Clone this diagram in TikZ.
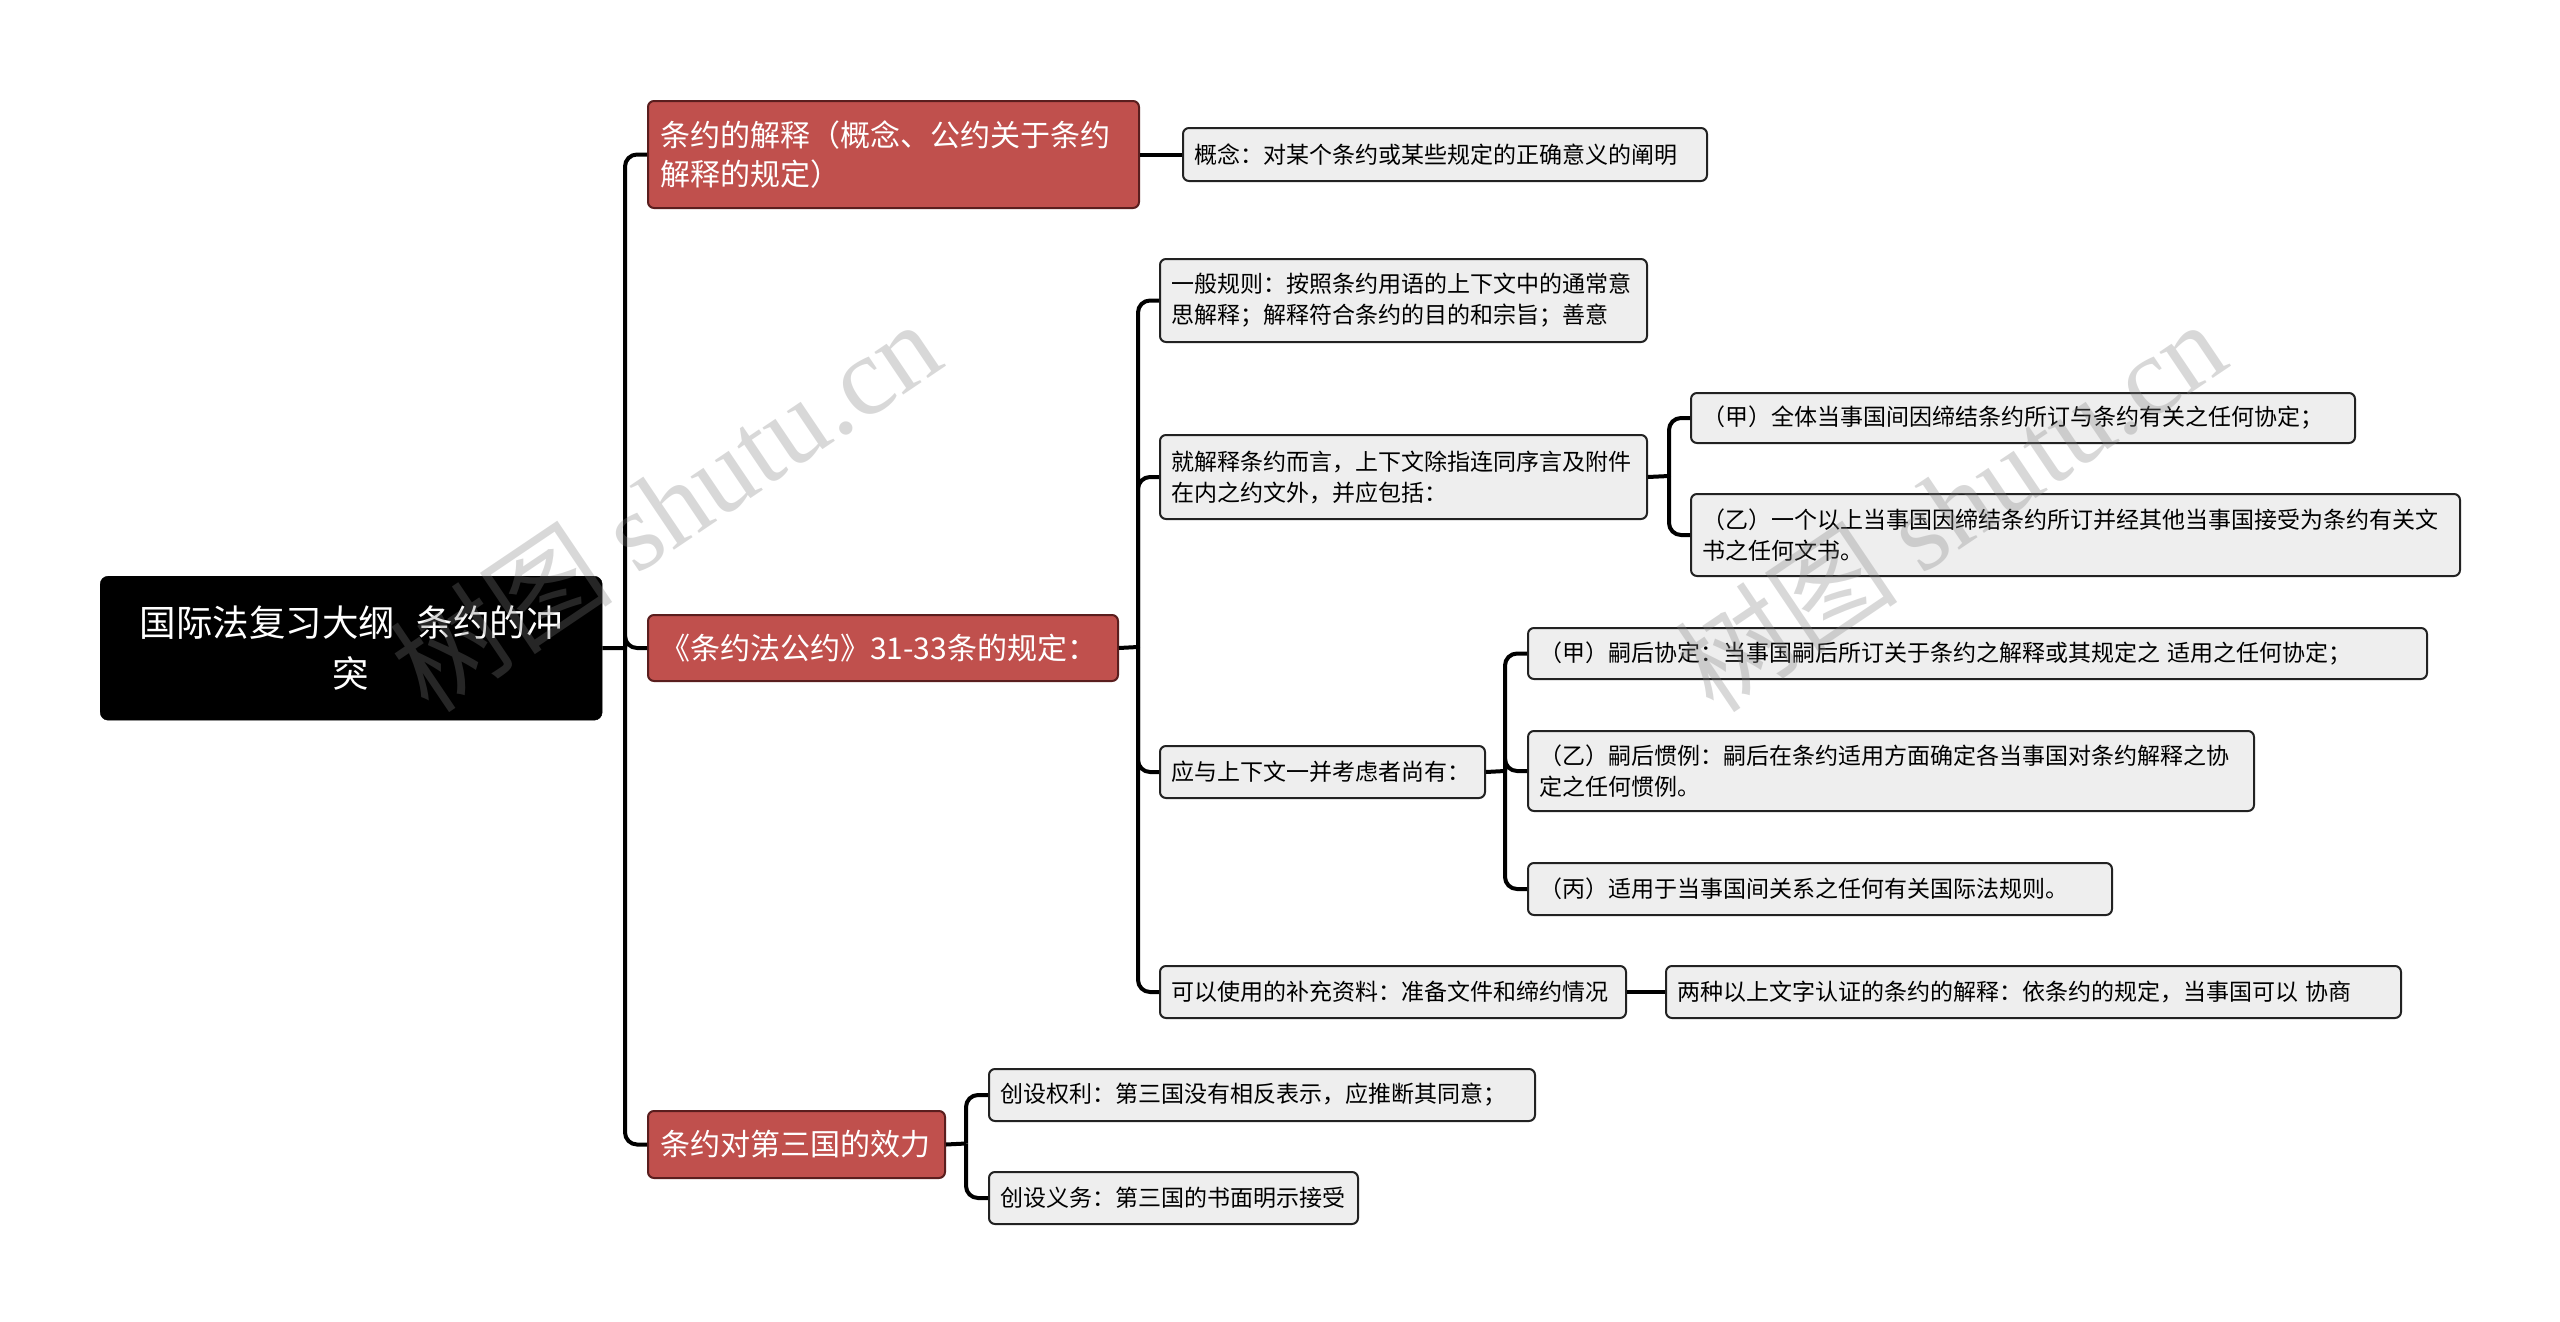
\documentclass[tikz,border=0pt]{standalone}
\usepackage{fontspec}
\setmainfont{Noto Sans CJK SC}
\newfontfamily\wmlatin{Liberation Serif}
\definecolor{redfill}{HTML}{C0504D}
\definecolor{redborder}{HTML}{5A1E1E}
\definecolor{boxgray}{HTML}{EEEEEE}
\definecolor{boxline}{HTML}{222222}
\tikzset{
  base/.style={draw, rounded corners=6pt, line width=2pt, inner xsep=11pt, inner ysep=0pt, align=left, anchor=north west},
  lvtwo/.style={base, fill=boxgray, draw=boxline, text=black, font=\fontsize{23}{31}\selectfont},
  lvone/.style={base, fill=redfill, draw=redborder, text=white, inner xsep=12pt, font=\fontsize{30}{39}\selectfont},
  rootbox/.style={draw=black, fill=black, rounded corners=8pt, text=white, align=center, anchor=north west, inner sep=0pt, font=\fontsize{36.5}{51}\selectfont},
  conn/.style={draw=black, line width=4pt, rounded corners=12pt},
  wm/.style={text=gray, opacity=0.3, font=\fontsize{112}{112}\selectfont}
}
\begin{document}
\begin{tikzpicture}[x=1pt, y=-1pt]
\useasboundingbox (0,0) rectangle (2560,1322);
\fill[white] (0,0) rectangle (2560,1322);

% root
\node[rootbox, minimum width=502pt, minimum height=144pt] (root) at (100,576) {国际法复习大纲\hspace{0.6em}条约的冲\\突};

% level 1
\node[lvone, text width=467pt, minimum height=107pt] (n1) at (647,100) {条约的解释（概念、公约关于条约\\解释的规定）};
\node[lvone, text width=446pt, minimum height=66pt] (n2) at (647,614) {《条约法公约》31-33条的规定：};
\node[lvone, text width=273pt, minimum height=67pt] (n3) at (647,1110) {条约对第三国的效力};

% level 2
\node[lvtwo, text width=502pt, minimum height=53pt] (k1) at (1182,127) {概念：对某个条约或某些规定的正确意义的阐明};
\node[lvtwo, text width=465pt, minimum height=83pt] (a) at (1159,258) {一般规则：按照条约用语的上下文中的通常意\\思解释；解释符合条约的目的和宗旨；善意};
\node[lvtwo, text width=465pt, minimum height=84pt] (b) at (1159,434) {就解释条约而言，上下文除指连同序言及附件\\在内之约文外，并应包括：};
\node[lvtwo, text width=303pt, minimum height=52pt] (c) at (1159,745) {应与上下文一并考虑者尚有：};
\node[lvtwo, text width=444pt, minimum height=52pt] (d) at (1159,965) {可以使用的补充资料：准备文件和缔约情况};
\node[lvtwo, text width=524pt, minimum height=52pt] (e1) at (988,1068) {创设权利：第三国没有相反表示，应推断其同意；};
\node[lvtwo, text width=347pt, minimum height=52pt] (e2) at (988,1171) {创设义务：第三国的书面明示接受};

% level 3
\node[lvtwo, text width=642pt, minimum height=50pt] (b1) at (1690,392) {（甲）全体当事国间因缔结条约所订与条约有关之任何协定；};
\node[lvtwo, text width=747pt, minimum height=82pt] (b2) at (1690,493) {（乙）一个以上当事国因缔结条约所订并经其他当事国接受为条约有关文\\书之任何文书。};
\node[lvtwo, text width=877pt, minimum height=51pt] (c1) at (1527,627) {（甲）嗣后协定：当事国嗣后所订关于条约之解释或其规定之 适用之任何协定；};
\node[lvtwo, text width=704pt, minimum height=80pt] (c2) at (1527,730) {（乙）嗣后惯例：嗣后在条约适用方面确定各当事国对条约解释之协\\定之任何惯例。};
\node[lvtwo, text width=562pt, minimum height=52pt] (c3) at (1527,862) {（丙）适用于当事国间关系之任何有关国际法规则。};
\node[lvtwo, text width=713pt, minimum height=52pt] (d1) at (1665,965) {两种以上文字认证的条约的解释：依条约的规定，当事国可以 协商};

% junctions
\coordinate (j0) at (625,648);
\coordinate (j2) at (1138,647);
\coordinate (jb) at (1669,476);
\coordinate (jc) at (1505,771);
\coordinate (j3) at (966,1143.5);

% connectors
\draw[conn] (root.east) -- (j0);
\draw[conn] (j0) |- (n1.west);
\draw[conn] (j0) |- (n2.west);
\draw[conn] (j0) |- (n3.west);
\draw[conn] (n1.east) -- (k1.west);
\draw[conn] (n2.east) -- (j2);
\draw[conn] (j2) |- (a.west);
\draw[conn] (j2) |- (b.west);
\draw[conn] (j2) |- (c.west);
\draw[conn] (j2) |- (d.west);
\draw[conn] (b.east) -- (jb);
\draw[conn] (jb) |- (b1.west);
\draw[conn] (jb) |- (b2.west);
\draw[conn] (c.east) -- (jc);
\draw[conn] (jc) |- (c1.west);
\draw[conn] (jc) |- (c2.west);
\draw[conn] (jc) |- (c3.west);
\draw[conn] (d.east) -- (d1.west);
\draw[conn] (n3.east) -- (j3);
\draw[conn] (j3) |- (e1.west);
\draw[conn] (j3) |- (e2.west);

% watermarks
\node[wm, rotate=34] (wm1) at (665,505) {树图 {\wmlatin shutu.cn}};
\node[wm, rotate=34] (wm2) at (1950,505) {树图 {\wmlatin shutu.cn}};
\end{tikzpicture}
\end{document}
